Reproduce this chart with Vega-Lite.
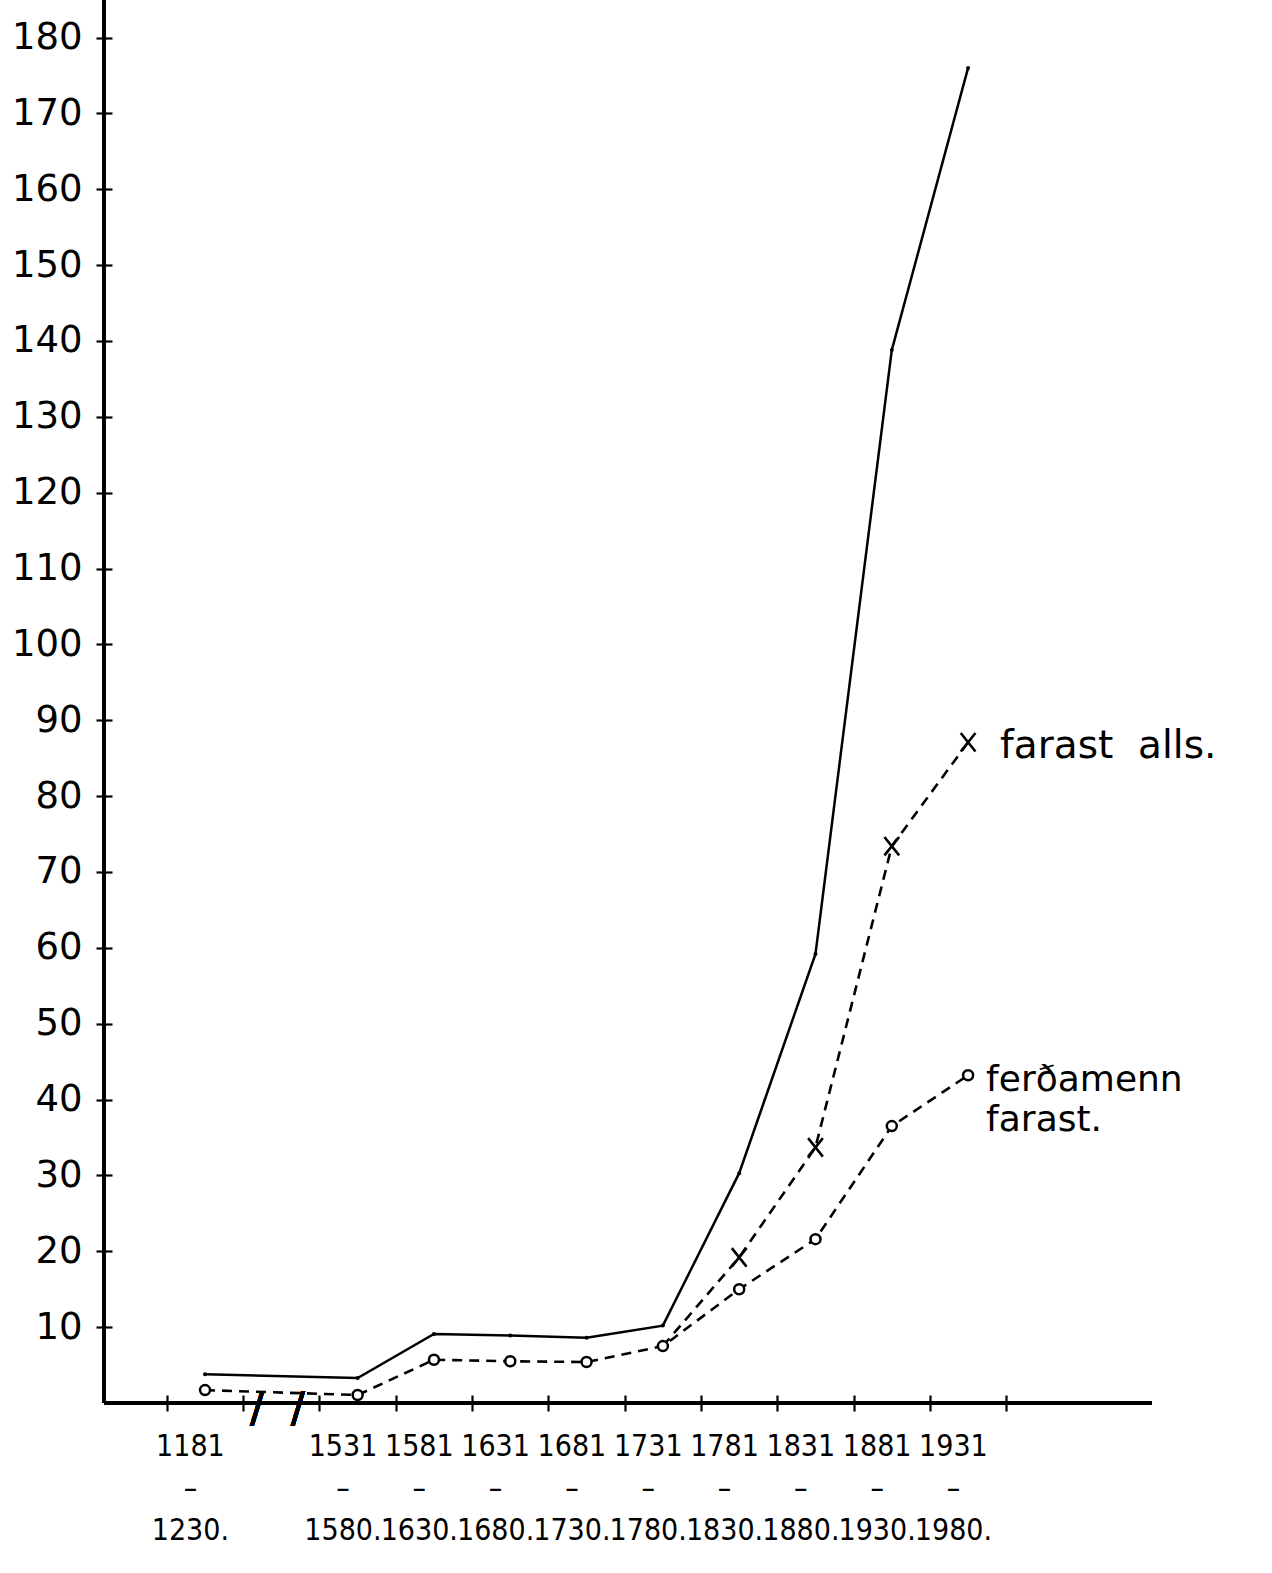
{
  "$schema": "https://vega.github.io/schema/vega-lite/v6.json",
  "autosize": {"type": "none"},
  "padding": {"left": 104, "top": 0, "right": 120, "bottom": 170},
  "width": 1048,
  "height": 1403,
  "background": "white",
  "config": {"view": {"stroke": null}},
  "datasets": {
    "main": [
      {"series": "alls", "period": "1181-1230", "idx": 0, "value": 3.8},
      {"series": "alls", "period": "1531-1580", "idx": 2, "value": 3.3},
      {"series": "alls", "period": "1581-1630", "idx": 3, "value": 9.1},
      {"series": "alls", "period": "1631-1680", "idx": 4, "value": 8.9},
      {"series": "alls", "period": "1681-1730", "idx": 5, "value": 8.6},
      {"series": "alls", "period": "1731-1780", "idx": 6, "value": 10.2},
      {"series": "alls", "period": "1781-1830", "idx": 7, "value": 30.3},
      {"series": "alls", "period": "1831-1880", "idx": 8, "value": 59.2},
      {"series": "alls", "period": "1881-1930", "idx": 9, "value": 138.8},
      {"series": "alls", "period": "1931-1980", "idx": 10, "value": 176.0},
      {"series": "farast alls", "period": "1731-1780", "idx": 6, "value": 7.5},
      {"series": "farast alls", "period": "1781-1830", "idx": 7, "value": 19.2},
      {"series": "farast alls", "period": "1831-1880", "idx": 8, "value": 33.7},
      {"series": "farast alls", "period": "1881-1930", "idx": 9, "value": 73.4},
      {"series": "farast alls", "period": "1931-1980", "idx": 10, "value": 87.1},
      {"series": "ferðamenn farast", "period": "1181-1230", "idx": 0, "value": 1.7},
      {"series": "ferðamenn farast", "period": "1531-1580", "idx": 2, "value": 1.05},
      {"series": "ferðamenn farast", "period": "1581-1630", "idx": 3, "value": 5.7},
      {"series": "ferðamenn farast", "period": "1631-1680", "idx": 4, "value": 5.5},
      {"series": "ferðamenn farast", "period": "1681-1730", "idx": 5, "value": 5.4},
      {"series": "ferðamenn farast", "period": "1731-1780", "idx": 6, "value": 7.5},
      {"series": "ferðamenn farast", "period": "1781-1830", "idx": 7, "value": 15.0},
      {"series": "ferðamenn farast", "period": "1831-1880", "idx": 8, "value": 21.6},
      {"series": "ferðamenn farast", "period": "1881-1930", "idx": 9, "value": 36.5},
      {"series": "ferðamenn farast", "period": "1931-1980", "idx": 10, "value": 43.2}
    ]
  },
  "data": {"name": "main"},
  "layer": [
    {
      "mark": {"type": "line", "color": "black", "strokeWidth": 2.5},
      "transform": [{"filter": "datum.series == 'alls'"}],
      "encoding": {
        "x": {
          "field": "idx", "type": "quantitative",
          "scale": {"domain": [-1.324, 12.41], "nice": false, "zero": false},
          "axis": {
            "title": null,
            "values": [-0.5, 0.5, 1.5, 2.5, 3.5, 4.5, 5.5, 6.5, 7.5, 8.5, 9.5, 10.5],
            "offset": -8,
            "tickSize": 16,
            "tickWidth": 2.2,
            "tickColor": "black",
            "domain": false,
            "grid": false,
            "labelOverlap": false,
            "labelFlush": false,
            "labelBound": false,
            "labelOffset": 23,
            "labelPadding": 20,
            "labelBaseline": "top",
            "labelLineHeight": 42,
            "labelFont": "Liberation Sans Narrow, DejaVu Sans Condensed, Liberation Sans",
            "labelFontSize": 30,
            "labelColor": "black",
            "labelExpr": "datum.value < 0 ? ['1181', '–', '1230.'] : ((datum.value < 1 || datum.value > 10) ? '' : [toString(1531 + 50 * (datum.value - 1.5)), '–', toString(1580 + 50 * (datum.value - 1.5)) + '.'])"
          }
        },
        "y": {
          "field": "value", "type": "quantitative",
          "scale": {"domain": [0, 184.95], "nice": false, "zero": true},
          "axis": {
            "title": null,
            "values": [10, 20, 30, 40, 50, 60, 70, 80, 90, 100, 110, 120, 130, 140, 150, 160, 170, 180],
            "offset": -8,
            "tickSize": 16,
            "tickWidth": 2.2,
            "tickColor": "black",
            "domain": false,
            "grid": false,
            "labelPadding": 14,
            "labelFont": "DejaVu Sans",
            "labelFontSize": 37,
            "labelColor": "black"
          }
        }
      }
    },
    {
      "mark": {"type": "rule", "color": "black", "strokeWidth": 2.5},
      "encoding": {"x": {"datum": -1.324, "type": "quantitative"}}
    },
    {
      "mark": {"type": "rule", "color": "black", "strokeWidth": 2.5},
      "encoding": {"y": {"datum": 0, "type": "quantitative"}}
    },
    {
      "mark": {"type": "point", "shape": "circle", "filled": true, "color": "black", "size": 16, "opacity": 1},
      "transform": [{"filter": "datum.series == 'alls'"}],
      "encoding": {
        "x": {"field": "idx", "type": "quantitative"},
        "y": {"field": "value", "type": "quantitative"}
      }
    },
    {
      "mark": {"type": "line", "color": "black", "strokeWidth": 2.6, "strokeDash": [10, 7]},
      "transform": [{"filter": "datum.series == 'farast alls'"}],
      "encoding": {
        "x": {"field": "idx", "type": "quantitative"},
        "y": {"field": "value", "type": "quantitative"}
      }
    },
    {
      "mark": {"type": "line", "color": "black", "strokeWidth": 2.6, "strokeDash": [10, 7]},
      "transform": [{"filter": "datum.series == 'ferðamenn farast'"}],
      "encoding": {
        "x": {"field": "idx", "type": "quantitative"},
        "y": {"field": "value", "type": "quantitative"}
      }
    },
    {
      "mark": {"type": "point", "shape": "M-0.8,-1L0.8,1M0.8,-1L-0.8,1", "filled": false, "stroke": "black", "strokeWidth": 2.6, "size": 340, "opacity": 1},
      "transform": [{"filter": "datum.series == 'farast alls' && datum.idx >= 7"}],
      "encoding": {
        "x": {"field": "idx", "type": "quantitative"},
        "y": {"field": "value", "type": "quantitative"}
      }
    },
    {
      "mark": {"type": "point", "shape": "circle", "filled": true, "fill": "white", "stroke": "black", "strokeWidth": 2.5, "size": 100, "opacity": 1},
      "transform": [{"filter": "datum.series == 'ferðamenn farast'"}],
      "encoding": {
        "x": {"field": "idx", "type": "quantitative"},
        "y": {"field": "value", "type": "quantitative"}
      }
    },
    {
      "mark": {"type": "text", "text": "farast\u00a0 alls.", "font": "DejaVu Sans", "fontSize": 39, "align": "left", "baseline": "middle", "dx": 32, "dy": 4, "color": "black"},
      "transform": [{"filter": "datum.series == 'farast alls' && datum.idx == 10"}],
      "encoding": {
        "x": {"field": "idx", "type": "quantitative"},
        "y": {"field": "value", "type": "quantitative"}
      }
    },
    {
      "mark": {"type": "text", "text": ["ferðamenn", "farast."], "lineHeight": 40, "font": "DejaVu Sans", "fontSize": 36, "align": "left", "baseline": "top", "dx": 18, "dy": -12, "color": "black"},
      "transform": [{"filter": "datum.series == 'ferðamenn farast' && datum.idx == 10"}],
      "encoding": {
        "x": {"field": "idx", "type": "quantitative"},
        "y": {"field": "value", "type": "quantitative"}
      }
    },
    {
      "mark": {"type": "text", "text": "/\u00a0\u00a0/", "font": "DejaVu Sans", "fontSize": 42, "align": "center", "baseline": "middle", "dy": 6, "color": "black"},
      "encoding": {
        "x": {"datum": 0.95, "type": "quantitative"},
        "y": {"datum": 0, "type": "quantitative"}
      }
    }
  ]
}
